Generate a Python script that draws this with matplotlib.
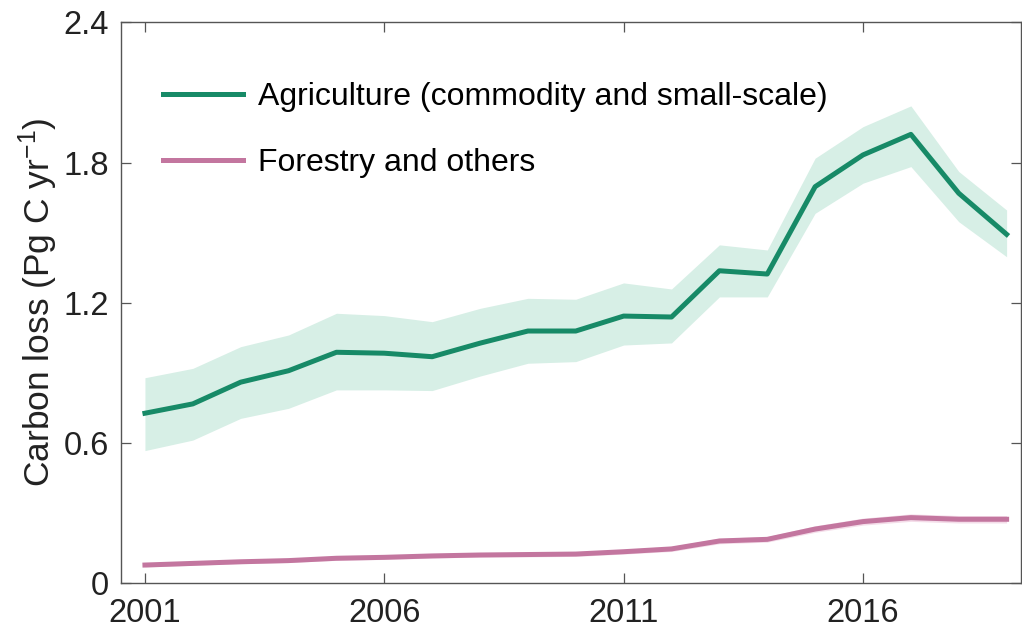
import matplotlib
matplotlib.use('Agg')
import matplotlib.pyplot as plt

years = list(range(2001, 2020))

agri = [0.727, 0.767, 0.860, 0.909, 0.988, 0.984, 0.969, 1.027, 1.079, 1.079,
        1.143, 1.139, 1.337, 1.323, 1.697, 1.833, 1.921, 1.669, 1.493]
agri_hi = [0.879, 0.919, 1.012, 1.062, 1.155, 1.145, 1.119, 1.176, 1.219, 1.215,
           1.285, 1.259, 1.448, 1.426, 1.819, 1.954, 2.043, 1.762, 1.597]
agri_lo = [0.567, 0.612, 0.705, 0.748, 0.827, 0.827, 0.824, 0.886, 0.941, 0.948,
           1.019, 1.028, 1.225, 1.225, 1.583, 1.712, 1.783, 1.547, 1.397]

forest = [0.077, 0.084, 0.091, 0.096, 0.106, 0.110, 0.116, 0.120, 0.122, 0.124,
          0.134, 0.146, 0.180, 0.187, 0.231, 0.263, 0.280, 0.273, 0.273]
forest_err = [0.008, 0.008, 0.008, 0.008, 0.009, 0.009, 0.009, 0.009, 0.010, 0.010,
              0.010, 0.011, 0.012, 0.012, 0.014, 0.015, 0.016, 0.016, 0.016]

xticks = [2001, 2006, 2011, 2016]
yticks = [0, 0.6, 1.2, 1.8, 2.4]
ytick_labels = ['0', '0.6', '1.2', '1.8', '2.4']

green = '#178a67'
pink = '#c3769f'

plt.rcParams['font.family'] = ['Liberation Sans', 'DejaVu Sans']
plt.rcParams['mathtext.fontset'] = 'custom'
plt.rcParams['mathtext.rm'] = 'Liberation Sans'
plt.rcParams['mathtext.it'] = 'Liberation Sans'

fig = plt.figure(figsize=(10.22, 6.32), dpi=100)
ax = fig.add_axes([0.1184, 0.0775, 0.8806, 0.8869])

# shaded uncertainty ranges
ax.fill_between(years, agri_lo, agri_hi, color='#d7efe6', lw=0)
f_lo = [v - e for v, e in zip(forest, forest_err)]
f_hi = [v + e for v, e in zip(forest, forest_err)]
ax.fill_between(years, f_lo, f_hi, color='#f4dde9', lw=0)

ax.plot(years, agri, color=green, lw=3.6, label='Agriculture (commodity and small-scale)')
ax.plot(years, forest, color=pink, lw=3.6, label='Forestry and others')

ax.set_xlim(2000.5, 2019.3)
ax.set_ylim(0, 2.4)
ax.set_xticks(xticks)
ax.set_yticks(yticks)
ax.set_yticklabels(ytick_labels)

ax.tick_params(direction='in', length=7.5, width=0.9, color='#555555',
               labelsize=23.5, labelcolor='#222222', top=True, right=True)
ax.tick_params(axis='x', pad=11)
ax.tick_params(axis='y', pad=9)
for s in ax.spines.values():
    s.set_color('#555555')
    s.set_linewidth(1.0)

ax.set_ylabel('Carbon loss (Pg C yr$^{-1}$)', fontsize=25.5, color='#222222', labelpad=2)

ax.legend(loc='upper left', bbox_to_anchor=(0.015, 0.945), frameon=False, fontsize=23,
          handlelength=2.5, handletextpad=0.47, labelspacing=1.12)

plt.savefig('out.png', dpi=100)
